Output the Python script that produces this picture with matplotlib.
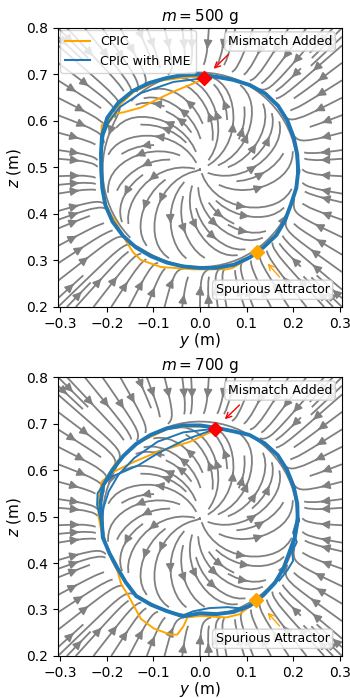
import numpy as np
import matplotlib
matplotlib.use('Agg')
import matplotlib.pyplot as plt
from matplotlib.lines import Line2D

# ── Data (y, z in metres) ────────────────────────────────────────────────────

# Main periodic orbit, read as radius every 10 deg around its centre
LOOP_ANGLE_DEG = list(range(0, 370, 10))
LOOP_500_CENTER = (0.0, 0.492)
LOOP_500_RADIUS = [0.211, 0.212, 0.214, 0.217, 0.219, 0.218, 0.214, 0.209, 0.206, 0.208,
                   0.210, 0.213, 0.219, 0.225, 0.229, 0.230, 0.224, 0.216, 0.212, 0.213,
                   0.216, 0.217, 0.216, 0.214, 0.211, 0.209, 0.208, 0.208, 0.211, 0.214,
                   0.214, 0.213, 0.214, 0.211, 0.208, 0.210, 0.211]
LOOP_700_CENTER = (0.0, 0.492)
LOOP_700_RADIUS = [0.210, 0.212, 0.214, 0.216, 0.218, 0.216, 0.212, 0.204, 0.202, 0.204,
                   0.207, 0.210, 0.212, 0.214, 0.215, 0.217, 0.221, 0.217, 0.211, 0.212,
                   0.207, 0.205, 0.208, 0.213, 0.210, 0.208, 0.210, 0.200, 0.205, 0.210,
                   0.213, 0.211, 0.210, 0.207, 0.204, 0.207, 0.210]

# m = 500 g
RME_500_Y = [0.008, -0.057, -0.127, -0.172, -0.196, -0.207, -0.211]
RME_500_Z = [0.692, 0.684, 0.660, 0.630, 0.598, 0.570, 0.540]
CPIC_500_TOP_Y = [0.008, -0.021, -0.091, -0.142, -0.172, -0.190, -0.200]
CPIC_500_TOP_Z = [0.694, 0.695, 0.686, 0.663, 0.635, 0.604, 0.590]
CPIC_500_Y = [0.008, -0.057, -0.091, -0.127, -0.163, -0.184, -0.200, -0.211, -0.213, -0.213,
              -0.207, -0.192, -0.180, -0.158, -0.144, -0.127, -0.084, -0.015, 0.057, 0.070,
              0.089, 0.105, 0.123]
CPIC_500_Z = [0.690, 0.663, 0.647, 0.629, 0.619, 0.615, 0.600, 0.591, 0.538, 0.480,
              0.430, 0.400, 0.381, 0.340, 0.318, 0.301, 0.286, 0.281, 0.281, 0.284,
              0.295, 0.305, 0.318]
MISMATCH_500 = (0.008, 0.692)
ATTRACTOR_500 = (0.123, 0.318)

# m = 700 g
RME_700_A_Y = [0.032, -0.036, -0.091, -0.141, -0.175, -0.196, -0.207, -0.211]
RME_700_A_Z = [0.689, 0.681, 0.661, 0.626, 0.590, 0.554, 0.520, 0.490]
RME_700_B_Y = [0.032, -0.032, -0.089, -0.131, -0.165, -0.190, -0.207, -0.220, -0.221, -0.213]
RME_700_B_Z = [0.688, 0.665, 0.637, 0.611, 0.596, 0.586, 0.569, 0.550, 0.525, 0.490]
RME_700_C_Y = [0.211, 0.207, 0.200, 0.208, 0.198, 0.200, 0.188, 0.170]
RME_700_C_Z = [0.520, 0.490, 0.465, 0.445, 0.425, 0.405, 0.385, 0.362]
RME_700_D_Y = [-0.040, -0.015, 0.020, 0.060, 0.090, 0.112]
RME_700_D_Z = [0.286, 0.296, 0.303, 0.305, 0.302, 0.312]
CPIC_700_TOP_Y = [0.032, -0.021, -0.068, -0.137, -0.180, -0.200]
CPIC_700_TOP_Z = [0.692, 0.694, 0.689, 0.657, 0.617, 0.585]
CPIC_700_Y = [0.032, -0.021, -0.091, -0.141, -0.190, -0.211, -0.218, -0.218, -0.211, -0.195,
              -0.178, -0.169, -0.154, -0.127, -0.099, -0.063, -0.049, -0.036, -0.027, 0.0,
              0.057, 0.085, 0.105, 0.120]
CPIC_700_Z = [0.686, 0.661, 0.639, 0.618, 0.594, 0.575, 0.540, 0.500, 0.465, 0.420,
              0.385, 0.354, 0.330, 0.280, 0.259, 0.246, 0.246, 0.263, 0.283, 0.286,
              0.283, 0.290, 0.305, 0.320]
MISMATCH_700 = (0.032, 0.689)
ATTRACTOR_700 = (0.120, 0.320)

# ── Vector field (limit cycle) parameters ────────────────────────────────────
FIELD_CENTER = (0.0, 0.495)
FIELD_RADIUS = 0.21
RADIAL_SOFTNESS = 0.03
SWIRL_INSIDE = 1.0
SWIRL_OUTSIDE = 0.5
SWIRL_DECAY = 0.02

GREY = 'grey'
BLUE = '#1f77b4'
ORANGE = 'orange'


def field(yy, zz):
    dy = yy - FIELD_CENTER[0]
    dz = zz - FIELD_CENTER[1]
    r = np.maximum(np.hypot(dy, dz), 1e-6)
    vr = np.tanh((FIELD_RADIUS - r) / RADIAL_SOFTNESS)
    vt = np.where(r < FIELD_RADIUS, SWIRL_INSIDE * r / FIELD_RADIUS,
                  SWIRL_OUTSIDE * np.exp(-(r - FIELD_RADIUS) / SWIRL_DECAY))
    u = vr * dy / r - vt * dz / r
    v = vr * dz / r + vt * dy / r
    return u, v


def polar_loop(center, radius):
    a = np.deg2rad(LOOP_ANGLE_DEG)
    return center[0] + np.array(radius) * np.cos(a), center[1] + np.array(radius) * np.sin(a)


yy, zz = np.meshgrid(np.linspace(-0.305, 0.305, 150), np.linspace(0.2, 0.8, 150))
uu, vv = field(yy, zz)

fig = plt.figure(figsize=(3.5, 6.98), dpi=100)
ax1 = fig.add_axes([0.1657, 0.5602, 0.8114, 0.3997])
ax2 = fig.add_axes([0.1657, 0.0602, 0.8114, 0.3996])

box = dict(boxstyle='round,pad=0.25', fc='white', ec='#cccccc', alpha=0.85)

panels = [
    (ax1, '$m = 500$ g', polar_loop(LOOP_500_CENTER, LOOP_500_RADIUS),
     [(RME_500_Y, RME_500_Z)], [(CPIC_500_TOP_Y, CPIC_500_TOP_Z), (CPIC_500_Y, CPIC_500_Z)],
     MISMATCH_500, ATTRACTOR_500),
    (ax2, '$m = 700$ g', polar_loop(LOOP_700_CENTER, LOOP_700_RADIUS),
     [(RME_700_A_Y, RME_700_A_Z), (RME_700_B_Y, RME_700_B_Z),
      (RME_700_C_Y, RME_700_C_Z), (RME_700_D_Y, RME_700_D_Z)],
     [(CPIC_700_TOP_Y, CPIC_700_TOP_Z), (CPIC_700_Y, CPIC_700_Z)],
     MISMATCH_700, ATTRACTOR_700),
]

for ax, title, (loop_y, loop_z), rme, cpic, mismatch, attractor in panels:
    ax.streamplot(yy, zz, uu, vv, density=1.1, color=GREY, linewidth=1.3,
                  arrowsize=1.2, arrowstyle='-|>', zorder=1)

    for ty, tz in cpic:
        ax.plot(ty, tz, color=ORANGE, lw=1.4, zorder=2)
    ax.plot(loop_y, loop_z, color=BLUE, lw=2.8, zorder=3, solid_joinstyle='round')
    for ty, tz in rme:
        ax.plot(ty, tz, color=BLUE, lw=1.4, zorder=3)

    ax.plot(*mismatch, marker='D', color='red', markersize=7, zorder=5)
    ax.plot(*attractor, marker='D', color=ORANGE, markersize=7, zorder=5)

    ax.annotate('', xy=(mismatch[0] + 0.017, mismatch[1] + 0.016),
                xytext=(mismatch[0] + 0.057, mismatch[1] + 0.055),
                arrowprops=dict(arrowstyle='->', color='red', lw=1), zorder=6)
    ax.text(0.172, 0.771, 'Mismatch Added', ha='center', va='center',
            fontsize=9, bbox=box, zorder=6)

    ax.annotate('', xy=(0.141, 0.298), xytext=(0.175, 0.260),
                arrowprops=dict(arrowstyle='->', color=ORANGE, lw=1), zorder=6)
    ax.text(0.156, 0.237, 'Spurious Attractor', ha='center', va='center',
            fontsize=9, bbox=box, zorder=6)

    ax.set_xlim(-0.305, 0.305)
    ax.set_ylim(0.2, 0.8)
    ax.set_xticks([-0.3, -0.2, -0.1, 0.0, 0.1, 0.2, 0.3])
    ax.set_yticks([0.2, 0.3, 0.4, 0.5, 0.6, 0.7, 0.8])
    ax.tick_params(labelsize=10)
    ax.set_xlabel('$y$ (m)', fontsize=11, labelpad=0)
    ax.set_ylabel('$z$ (m)', fontsize=11, labelpad=2)
    ax.set_title(title, fontsize=11, pad=5)

handles = [Line2D([], [], color=ORANGE, lw=1.5, label='CPIC'),
           Line2D([], [], color=BLUE, lw=1.5, label='CPIC with RME')]
ax1.legend(handles=handles, loc='upper left', fontsize=9, framealpha=0.8, borderaxespad=0.2)

fig.savefig('out.png', dpi=100)
